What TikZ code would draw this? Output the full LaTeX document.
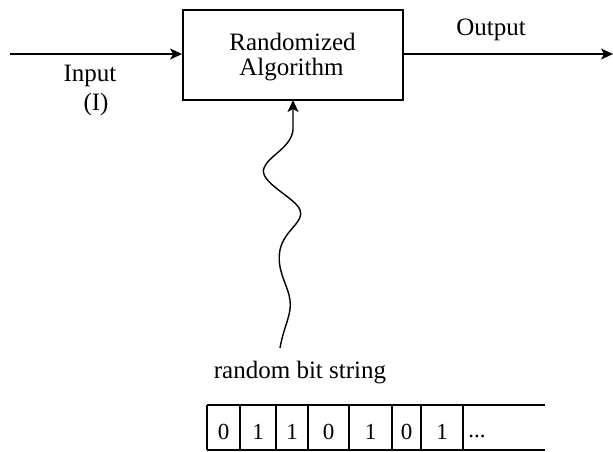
\documentclass[tikz,border=0pt]{standalone}
\usepackage{fontspec}
\setmainfont{Liberation Serif}
\usetikzlibrary{arrows.meta}
\begin{document}
\begin{tikzpicture}[x=1pt,y=-1pt,
  lbl/.style={font=\fontsize{25}{30}\selectfont, inner sep=0pt, align=center},
  bit/.style={font=\fontsize{23}{28}\selectfont, inner sep=0pt},
  conn/.style={line width=1.4pt, -{Stealth[length=12pt,width=11pt,inset=3pt]}},
  cell/.style={line width=1.3pt}]
\useasboundingbox (0,0) rectangle (613,451);
\node[draw, line width=1.8pt, minimum width=220pt, minimum height=90pt, inner sep=0pt] (alg) at (293,55) {};
\node[lbl] (t1) at (292.5,42) {Randomized};
\node[lbl] (t2) at (291.5,70) {Algorithm};
\coordinate (inS) at (10,54);
\coordinate (outE) at (613,54);
\draw[conn] (inS) -- (inS -| alg.west);
\draw[conn] (outE -| alg.east) -- (outE);
\node[lbl] (inl) at (90,76) {Input};
\node[lbl] (inl2) at (96,104) {(I)};
\node[lbl] (outl) at (491,30) {Output};
\node[lbl] (rbs) at (300,373) {random bit string};
\coordinate (wstart) at (280,348);
\coordinate (wend) at (293,100);
\draw[conn] (wstart) .. controls (284,325) and (292,315) .. (290,300)
  .. controls (288,285) and (276,270) .. (280,250)
  .. controls (284,230) and (305,222) .. (300,210)
  .. controls (296,198) and (258,182) .. (264,168)
  .. controls (268,156) and (291,148) .. (293,130)
  -- (wend);
% bit string
\draw[cell] (207,405) -- (545,405);
\draw[cell] (207,450) -- (545,450);
\foreach \x in {207,240,276,308,349,392,421,463} \draw[cell] (\x,405) -- (\x,450);
\node[bit] (b1) at (223.5,432) {0};
\node[bit] (b2) at (258,432) {1};
\node[bit] (b3) at (292,432) {1};
\node[bit] (b4) at (328.5,432) {0};
\node[bit] (b5) at (370.5,432) {1};
\node[bit] (b6) at (406.5,432) {0};
\node[bit] (b7) at (442,432) {1};
\node[bit] (b8) at (477,436) {...};
\end{tikzpicture}
\end{document}
